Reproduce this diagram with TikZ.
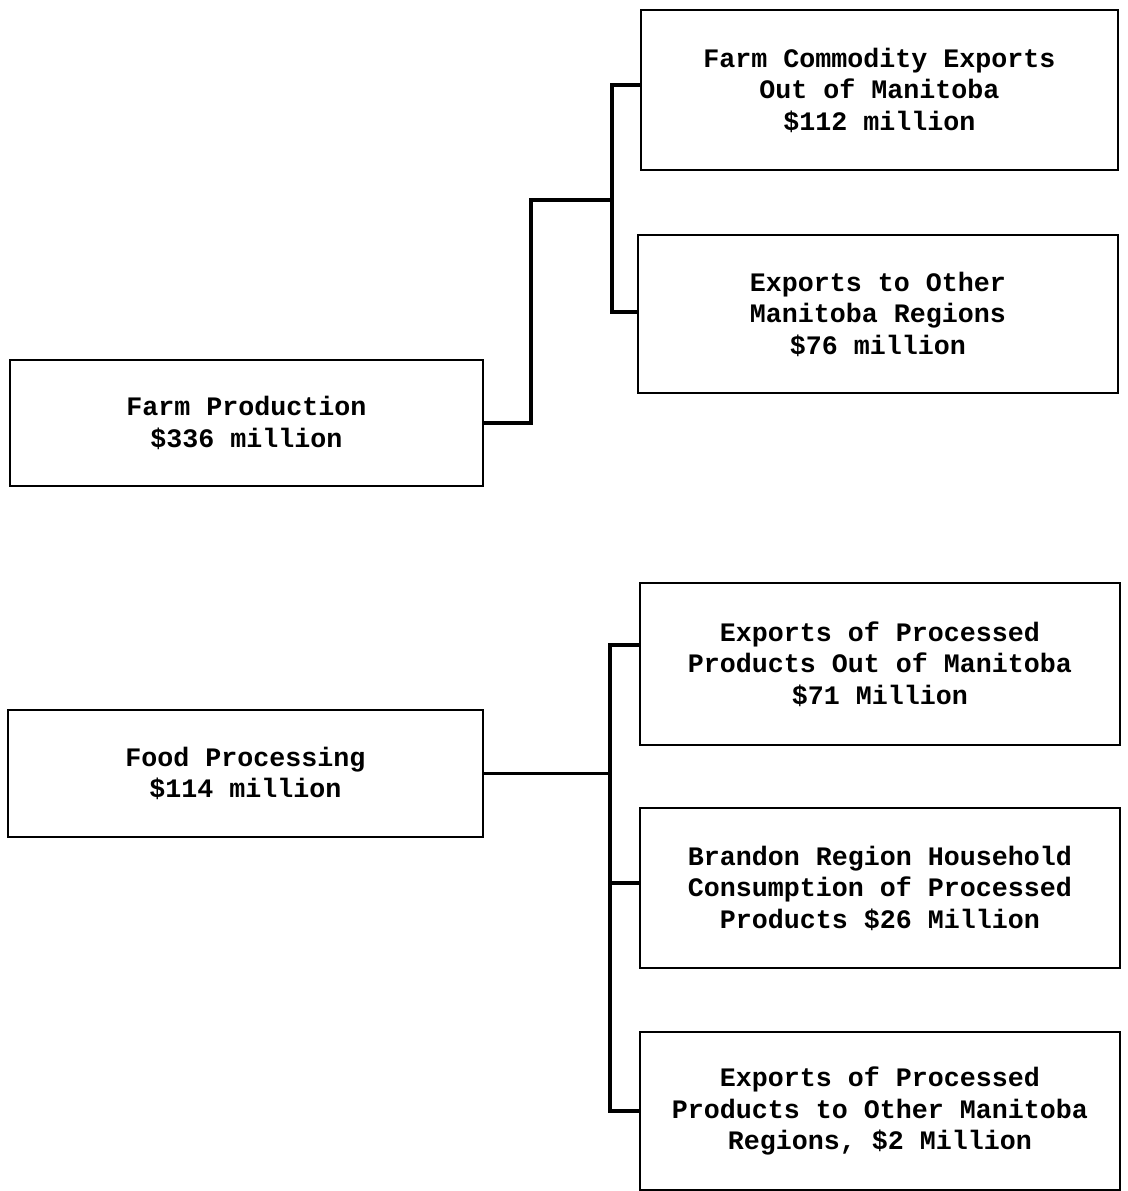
\documentclass[tikz,border=0pt]{standalone}
\usepackage{fontspec}
\setmonofont{Liberation Mono}
\usetikzlibrary{calc}
\tikzset{
  bx/.style={draw, line width=2.2pt, align=center, inner sep=0pt,
    font=\ttfamily\bfseries\fontsize{20}{23.6}\selectfont},
  wire/.style={line width=2.4pt, line join=miter}
}
\begin{document}
\begin{tikzpicture}[x=0.75pt,y=-0.75pt]
\useasboundingbox[fill=white] (0,0) rectangle (1127,1191);
% upper group
\node[bx, minimum width=477*0.75pt, minimum height=160*0.75pt] (fce) at (879.5,90) {Farm Commodity Exports\\Out of Manitoba\\\$112 million};
\node[bx, minimum width=480*0.75pt, minimum height=158*0.75pt] (eom) at (878,314) {Exports to Other\\Manitoba Regions\\\$76 million};
\node[bx, minimum width=473*0.75pt, minimum height=126*0.75pt] (fp) at (246.5,423) {Farm Production\\\$336 million};
% lower group
\node[bx, minimum width=475*0.75pt, minimum height=127*0.75pt] (food) at (245.5,773.5) {Food Processing\\\$114 million};
\node[bx, minimum width=480*0.75pt, minimum height=162*0.75pt] (epo) at (880,664) {Exports of Processed\\Products Out of Manitoba\\\$71 Million};
\node[bx, minimum width=480*0.75pt, minimum height=160*0.75pt] (br) at (880,888) {Brandon Region Household\\Consumption of Processed\\Products \$26 Million};
\node[bx, minimum width=480*0.75pt, minimum height=158*0.75pt] (last) at (880,1111) {Exports of Processed\\Products to Other Manitoba\\Regions, \$2 Million};
% connectors upper
\coordinate (k1) at (531,200);
\coordinate (j1) at (612,200);
\draw[wire] (fp.east) -| (k1) -- (j1);
\draw[wire] ($(fce.west)+(0,-5)$) -| (j1) |- ($(eom.west)+(0,-2)$);
% connectors lower
\coordinate (j2) at (610,773.5);
\coordinate (a) at ($(epo.west)+(0,-19)$);
\draw[wire] (food.east) -- (j2);
\draw[wire] (a) -| (j2) |- (last.west);
\draw[wire] ($(br.west)+(0,-5)$) -- ($(br.west -| j2)+(0,-5)$);
\end{tikzpicture}
\end{document}
